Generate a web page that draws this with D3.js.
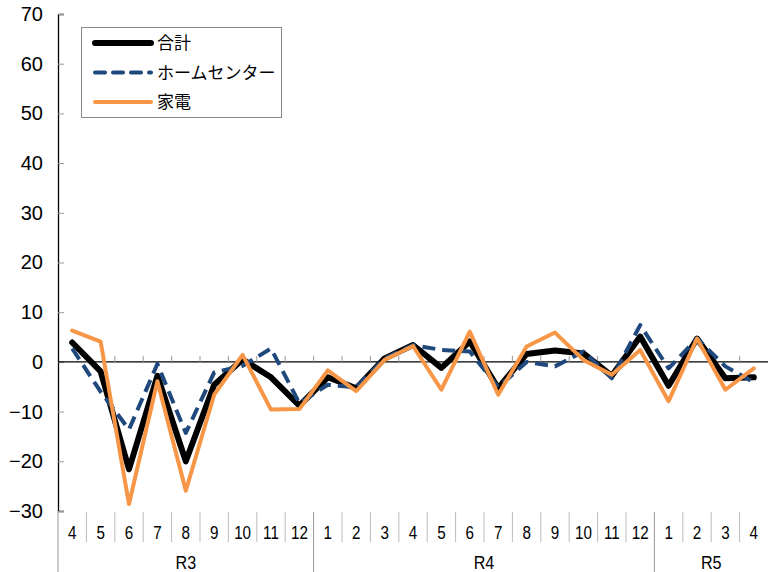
<!DOCTYPE html>
<html lang="ja">
<head>
<meta charset="UTF-8">
<script src="https://d3js.org/d3.v7.min.js"></script>
<style>
  body { margin: 0; background: #fff; }
  svg text { font-family: "Liberation Sans", Arial, sans-serif; fill: #000; }
</style>
</head>
<body>
<div id="chart"></div>
<script>
// months (category axis), grouped by fiscal year label
var months = ["4","5","6","7","8","9","10","11","12",
              "1","2","3","4","5","6","7","8","9","10","11","12",
              "1","2","3","4"];
var groups = [{name: "R3", count: 9}, {name: "R4", count: 12}, {name: "R5", count: 4}];

var total = [3.9, -1.9, -21.6, -2.8, -20.0, -4.6, 0.5, -3.1, -8.8,
             -3.1, -5.3, 0.7, 3.4, -1.2, 4.1, -5.3, 1.6, 2.3, 1.7, -2.8, 5.1,
             -4.8, 4.7, -3.3, -3.1];
var homeCenter = [2.7, -6.0, -13.6, -0.4, -14.3, -2.1, -0.8, 2.7, -8.3,
                  -4.6, -5.1, 0.7, 3.4, 2.4, 2.1, -5.1, 0.0, -0.9, 2.1, -3.3, 7.4,
                  -1.3, 4.7, -0.9, -4.1];
var appliance = [6.3, 4.1, -28.6, -3.9, -25.9, -6.6, 1.4, -9.6, -9.5,
                 -1.7, -5.9, 0.4, 3.2, -5.6, 6.1, -6.6, 3.1, 5.9, 0.4, -2.6, 2.4,
                 -7.9, 4.7, -5.6, -1.3];
var yTicks = [70, 60, 50, 40, 30, 20, 10, 0, -10, -20, -30];

var series = [
  {name: "合計", values: total, color: "#000000", width: 6, dash: null},
  {name: "ホームセンター", values: homeCenter, color: "#1F497D", width: 4, dash: "13,7"},
  {name: "家電", values: appliance, color: "#F79646", width: 4, dash: null}
];

var W = 768, H = 572;
var plotL = 58, plotR = 768, plotT = 14, plotB = 511;

var svg = d3.select("#chart").append("svg")
  .attr("width", W).attr("height", H);

var x = d3.scaleBand()
  .domain(d3.range(months.length))
  .range([plotL, plotR])
  .padding(0);

var y = d3.scaleLinear()
  .domain([-30, 70])
  .range([plotB, plotT]);

// y axis
var yAxis = d3.axisLeft(y)
  .tickValues(yTicks)
  .tickSize(-6)
  .tickPadding(15)
  .tickFormat(function(d) { return d < 0 ? "\u2212" + Math.abs(d) : d; });
var gy = svg.append("g")
  .attr("transform", "translate(" + plotL + ",0)")
  .call(yAxis);
gy.select(".domain").attr("stroke", "#000").attr("stroke-width", 1.3);
gy.selectAll(".tick line").attr("stroke", "#999");
gy.selectAll(".tick text")
  .style("font-family", "'Liberation Sans', Arial, sans-serif")
  .style("font-size", "20px");

// lower label area: left axis line continues in gray
svg.append("line")
  .attr("x1", plotL).attr("x2", plotL)
  .attr("y1", plotB).attr("y2", H)
  .attr("stroke", "#999");

// zero line with ticks at category boundaries
svg.append("line")
  .attr("x1", plotL).attr("x2", plotR)
  .attr("y1", y(0)).attr("y2", y(0))
  .attr("stroke", "#000").attr("stroke-width", 1.3);
svg.append("g").selectAll("line")
  .data(d3.range(1, months.length))
  .join("line")
    .attr("x1", function(i) { return x(i); })
    .attr("x2", function(i) { return x(i); })
    .attr("y1", y(0) - 6).attr("y2", y(0))
    .attr("stroke", "#999");

// month labels + separators
var groupStarts = [];
var acc = 0;
groups.forEach(function(g) { groupStarts.push(acc); acc += g.count; });

svg.append("g").selectAll("line")
  .data(d3.range(1, months.length).filter(function(i) { return groupStarts.indexOf(i) < 0; }))
  .join("line")
    .attr("x1", function(i) { return x(i); })
    .attr("x2", function(i) { return x(i); })
    .attr("y1", plotB + 1).attr("y2", 542)
    .attr("stroke", "#bbb");

svg.append("g").selectAll("line")
  .data(groupStarts.slice(1))
  .join("line")
    .attr("x1", function(i) { return x(i); })
    .attr("x2", function(i) { return x(i); })
    .attr("y1", plotB + 1).attr("y2", H)
    .attr("stroke", "#999");

// condensed look like the original labels
svg.append("g").selectAll("text")
  .data(months)
  .join("text")
    .attr("transform", function(d, i) {
      return "translate(" + (x(i) + x.bandwidth() / 2) + ",539) scale(0.8,1)";
    })
    .attr("text-anchor", "middle")
    .style("font-size", "19px")
    .text(function(d) { return d; });

svg.append("g").selectAll("text")
  .data(groups)
  .join("text")
    .attr("transform", function(d, i) {
      var cx = (x(groupStarts[i]) + x(groupStarts[i] + d.count - 1) + x.bandwidth()) / 2;
      return "translate(" + cx + ",569) scale(0.85,1)";
    })
    .attr("text-anchor", "middle")
    .style("font-size", "19px")
    .text(function(d) { return d.name; });

// lines
var line = d3.line()
  .x(function(d, i) { return x(i) + x.bandwidth() / 2; })
  .y(function(d) { return y(d); });

series.forEach(function(s) {
  svg.append("path")
    .datum(s.values)
    .attr("d", line)
    .attr("fill", "none")
    .attr("stroke", s.color)
    .attr("stroke-width", s.width)
    .attr("stroke-linejoin", "round")
    .attr("stroke-linecap", s.dash ? "butt" : "round")
    .attr("stroke-dasharray", s.dash);
});

// legend
var lg = svg.append("g");
lg.append("rect")
  .attr("x", 81.5).attr("y", 27.5)
  .attr("width", 200).attr("height", 90)
  .attr("fill", "#fff").attr("stroke", "#888");
series.forEach(function(s, i) {
  var ly = 43 + i * 29.5;
  lg.append("line")
    .attr("x1", 95).attr("x2", 151)
    .attr("y1", ly).attr("y2", ly)
    .attr("stroke", s.color)
    .attr("stroke-width", s.width)
    .attr("stroke-linecap", "round")
    .attr("stroke-dasharray", s.dash ? "10,8" : null);
  lg.append("text")
    .attr("x", 157).attr("y", ly)
    .attr("dy", "0.36em")
    .style("font-size", "17px")
    .style("font-family", "'Noto Sans CJK JP', sans-serif")
    .text(s.name);
});
</script>
</body>
</html>
